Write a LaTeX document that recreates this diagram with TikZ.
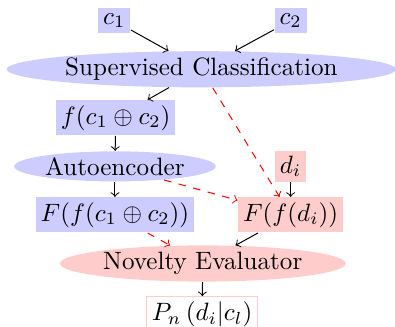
\documentclass[tikz,border=0pt]{standalone}
\usepackage{tikz}
\usetikzlibrary{positioning,arrows,shapes}
\usepackage{amsmath,amssymb}

\begin{document}
\begin{tikzpicture}[
                           box/.style={rectangle, fill=blue!20, inner sep=2pt},
                           redbox/.style={rectangle, fill=red!20, inner sep=2pt},
                           blob/.style={ellipse, fill=blue!20, inner sep=0.6pt},
                           redblob/.style={ellipse, fill=red!20, inner sep=0.6pt}]
            \useasboundingbox (0,0) rectangle (5.532,-4.566);

            % Inputs
            \node[box] (c1) at (1.6,-0.29) {$c_1$};
            \node[box] (c2) at (4.07,-0.29) {$c_2$};
            \node[blob] (sc) at (2.82,-0.97) {Supervised Classification};

            % Left column
            \node[box] (f) at (1.62,-1.65) {$f(c_1 \oplus c_2)$};
            \node[blob] (ae) at (1.61,-2.33) {Autoencoder};
            \node[box] (Fc) at (1.61,-3.01) {$F(f(c_1 \oplus c_2))$};

            % Right column
            \node[redbox] (di) at (4.07,-2.33) {$d_i$};
            \node[redbox] (Fd) at (4.07,-3.01) {$F(f(d_i))$};

            % Output
            \node[redblob] (ne) at (2.84,-3.69) {Novelty Evaluator};
            \node[rectangle, draw=red!20, fill=white, inner sep=2pt] (pn) at (2.83,-4.40) {$P_n\left(d_i|c_l\right)$};

            % Black flow
            \draw[->] (c1) -- (sc);
            \draw[->] (c2) -- (sc);
            \draw[->] (sc) -- (f);
            \draw[->] (f) -- (ae);
            \draw[->] (ae) -- (Fc);
            \draw[->] (di) -- (Fd);
            \draw[->] (Fd) -- (ne);
            \draw[->] (ne) -- (pn);

            % Red dashed flow
            \draw[->, dashed, red] (sc) -- (Fd);
            \draw[->, dashed, red] (ae) -- (Fd);
            \draw[->, dashed, red] (Fc) -- (ne);
        \end{tikzpicture}
\end{document}
